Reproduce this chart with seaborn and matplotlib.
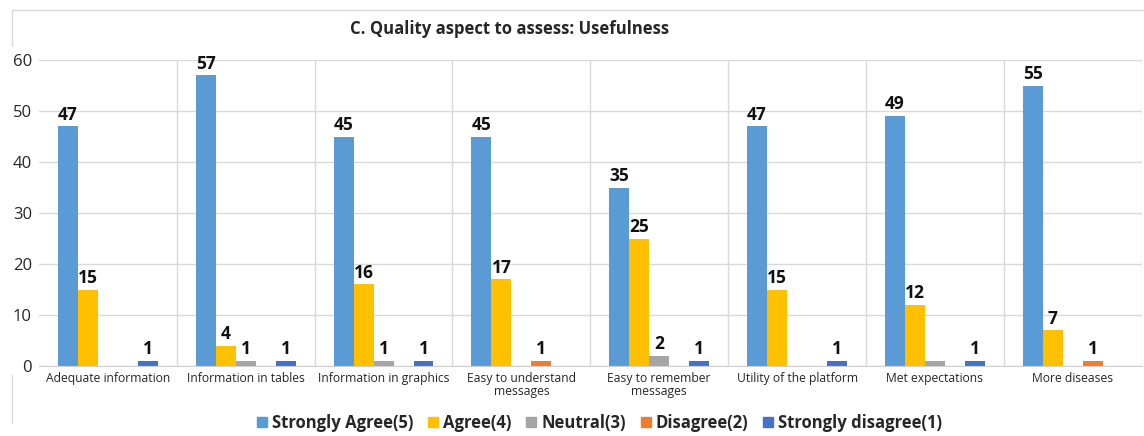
import numpy as np
import pandas as pd
import seaborn as sns
import matplotlib.pyplot as plt
from matplotlib.lines import Line2D

categories = ['Adequate information', 'Information in tables', 'Information in graphics',
              'Easy to understand\nmessages', 'Easy to remember\nmessages',
              'Utility of the platform', 'Met expectations', 'More diseases']
levels = ['Strongly Agree(5)', 'Agree(4)', 'Neutral(3)', 'Disagree(2)', 'Strongly disagree(1)']

strongly_agree = [47, 57, 45, 45, 35, 47, 49, 55]
agree = [15, 4, 16, 17, 25, 15, 12, 7]
neutral = [0, 1, 1, 0, 2, 0, 1, 0]
disagree = [0, 0, 0, 1, 0, 0, 0, 1]
strongly_disagree = [1, 1, 1, 0, 1, 1, 1, 0]

# the neutral bar of "Met expectations" has no number in the original
unlabeled = [('Neutral(3)', 'Met expectations')]

colors = ['#5B9BD5', '#FFC000', '#A5A5A5', '#ED7D31', '#4472C4']

series = [strongly_agree, agree, neutral, disagree, strongly_disagree]
rows = []
for lev, vals in zip(levels, series):
    for cat, v in zip(categories, vals):
        rows.append({'cat': cat, 'level': lev, 'n': v})
df = pd.DataFrame(rows)

sns.set_style('white')
plt.rcParams['font.family'] = ['Open Sans', 'DejaVu Sans']

fig = plt.figure(figsize=(11.44, 4.36), dpi=100)
ax = fig.add_axes([0.034, 0.1606, 0.964, 0.7014])

sns.barplot(data=df, x='cat', y='n', hue='level', order=categories, hue_order=levels,
            palette=colors, width=0.725, gap=0, saturation=1, ax=ax, legend=False,
            linewidth=0)

ax.set_ylim(0, 60)
ax.set_xlim(-0.5, len(categories) - 0.5)
ax.set_yticks(range(0, 61, 10))
ax.set_xlabel('')
ax.set_ylabel('')
ax.yaxis.grid(True, color='#d9d9d9', linewidth=1)
for i in range(len(categories)):
    ax.axvline(i + 0.5, color='#d9d9d9', linewidth=1)
ax.set_axisbelow(True)
for s in ['top', 'right', 'left']:
    ax.spines[s].set_visible(False)
ax.spines['bottom'].set_color('#d0d0d0')
ax.tick_params(axis='y', labelsize=12, length=0, pad=5)
ax.tick_params(axis='x', labelsize=8.7, length=0, pad=4)
for t in ax.get_xticklabels():
    t.set_linespacing(1.0)

for lev, cont in zip(levels, ax.containers):
    labs = []
    for cat, v in zip(categories, df[df.level == lev]['n']):
        if v == 0 or (lev, cat) in unlabeled:
            labs.append('')
        else:
            labs.append(str(v))
    ax.bar_label(cont, labels=labs, padding=2, fontsize=12.5, fontweight='bold', color='#111111')

fig.text(0.445, 0.933, 'C. Quality aspect to assess: Usefulness', ha='center', va='center',
         fontsize=12, fontweight='bold')

# light outer frame
fig.add_artist(Line2D([0.0105, 1.0], [0.977, 0.977], color='#d9d9d9', lw=1))
fig.add_artist(Line2D([0.0105, 0.0105], [0.977, 0.895], color='#d9d9d9', lw=1))
fig.add_artist(Line2D([0.0105, 0.0105], [0.14, 0.03], color='#d9d9d9', lw=1))

handles = [plt.Rectangle((0, 0), 1, 1, color=c) for c in colors]
fig.legend(handles, levels, loc='center', bbox_to_anchor=(0.524, 0.03), ncol=5, frameon=False,
           prop={'weight': 'bold', 'size': 12}, handlelength=0.6, handleheight=0.6,
           handletextpad=0.3, columnspacing=0.9, borderpad=0.1)

fig.savefig('out.png', dpi=100)
